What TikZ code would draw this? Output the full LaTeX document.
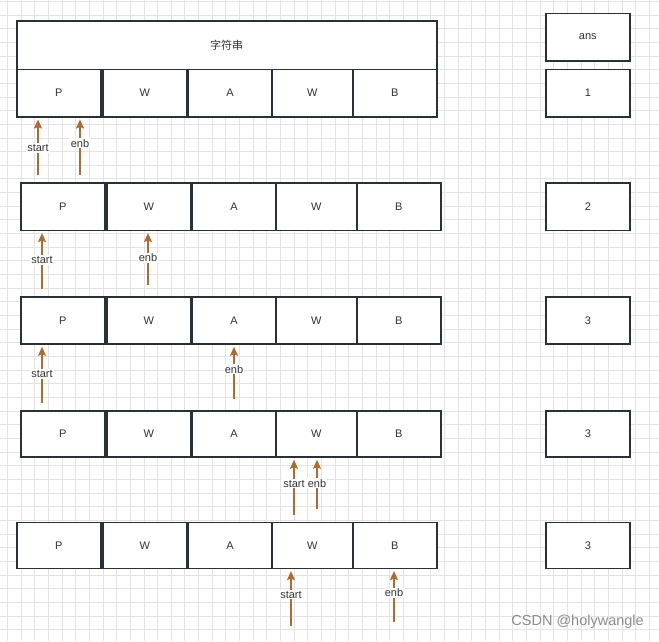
\documentclass[tikz,border=0pt]{standalone}
\usepackage{fontspec}
\setmainfont{Liberation Sans}
\newfontfamily\cjk{Noto Sans CJK SC}
\usetikzlibrary{arrows.meta}
\definecolor{boxc}{HTML}{2B3035}
\definecolor{txtc}{HTML}{333333}
\definecolor{arrc}{HTML}{B0692F}
\definecolor{gridc}{HTML}{E3E3E3}
\newcommand\mycellrow[4]{%
  \foreach \i/\l/\r/\t in {1/16.7/100.7/P, 2/102.7/186.7/W, 3/188.3/271.7/A, 4/271.7/352.7/W, 5/352.7/436.7/B}{%
    \node[cell, minimum width={\r-\l}, minimum height={#4-#3}] (#1c\i) at ({(\l+\r)/2+#2},{(#3+#4)/2}) {\t};
  }}
\begin{document}
\begin{tikzpicture}[x=1pt,y=-1pt,
  cell/.style={draw=boxc, line width=1.6pt, fill=white, inner sep=0pt, text=txtc, font=\fontsize{11}{13}\selectfont},
  arr/.style={draw=arrc, line width=1.6pt, -{Stealth[length=9pt,width=8pt,inset=1.5pt]}, shorten >=2pt},
  lbl/.style={fill=white, inner sep=1pt, text=txtc, font=\fontsize{11}{13}\selectfont},
  gridl/.style={draw=gridc, line width=0.8pt}]
\useasboundingbox[fill=white] (0,0) rectangle (659,641);
\foreach \k in {0,...,48} {\draw[gridl] ({7.3+\k*13.66},0) -- ({7.3+\k*13.66},641);}
\foreach \k in {0,...,47} {\draw[gridl] (0,{1.3+\k*13.66}) -- (659,{1.3+\k*13.66});}
% header
\node[cell, minimum width=420, minimum height=48.3] (head) at (226.7,45.15) {\cjk 字符串};
% rows
\mycellrow{r1}{0}{69.3}{116.7}
\mycellrow{r2}{4}{182.7}{230.3}
\mycellrow{r3}{4}{297}{344}
\mycellrow{r4}{4}{411}{457}
\mycellrow{r5}{0}{522.3}{568.3}
% ans column
\node[cell, minimum width=84.3, minimum height=47.4] (ans) at (587.85,37) {ans};
\node[cell, minimum width=84.3, minimum height=47.4] (a1) at (587.85,93) {1};
\node[cell, minimum width=84.3, minimum height=47.6] (a2) at (587.85,206.5) {2};
\node[cell, minimum width=84.3, minimum height=47] (a3) at (587.85,320.5) {3};
\node[cell, minimum width=84.3, minimum height=46] (a4) at (587.85,434) {3};
\node[cell, minimum width=84.3, minimum height=46] (a5) at (587.85,545.3) {3};
% pointers
\coordinate (s1) at (38,175);  \coordinate (e1) at (80,175);
\coordinate (s2) at (42,289);  \coordinate (e2) at (148,285);
\coordinate (s3) at (42,403);  \coordinate (e3) at (234,399);
\coordinate (s4) at (294,515); \coordinate (e4) at (317,509);
\coordinate (s5) at (291,626); \coordinate (e5) at (394,622);
\draw[arr] (s1) -- (s1 |- r1c1.south) node[lbl, pos=0.47] {start};
\draw[arr] (e1) -- (e1 |- r1c1.south) node[lbl, pos=0.55] {enb};
\draw[arr] (s2) -- (s2 |- r2c1.south) node[lbl, pos=0.5] {start};
\draw[arr] (e2) -- (e2 |- r2c2.south) node[lbl, pos=0.5] {enb};
\draw[arr] (s3) -- (s3 |- r3c1.south) node[lbl, pos=0.5] {start};
\draw[arr] (e3) -- (e3 |- r3c3.south) node[lbl, pos=0.55] {enb};
\draw[arr] (s4) -- (s4 |- r4c4.south) node[lbl, pos=0.55] {start};
\draw[arr] (e4) -- (e4 |- r4c4.south) node[lbl, pos=0.5] {enb};
\draw[arr] (s5) -- (s5 |- r5c4.south) node[lbl, pos=0.55] {start};
\draw[arr] (e5) -- (e5 |- r5c5.south) node[lbl, pos=0.55] {enb};
% watermark
\node[anchor=east, text=black!45, font=\fontsize{14.5}{16}\selectfont, inner sep=0pt] (wm) at (644,622) {CSDN @holywangle};
\end{tikzpicture}
\end{document}
